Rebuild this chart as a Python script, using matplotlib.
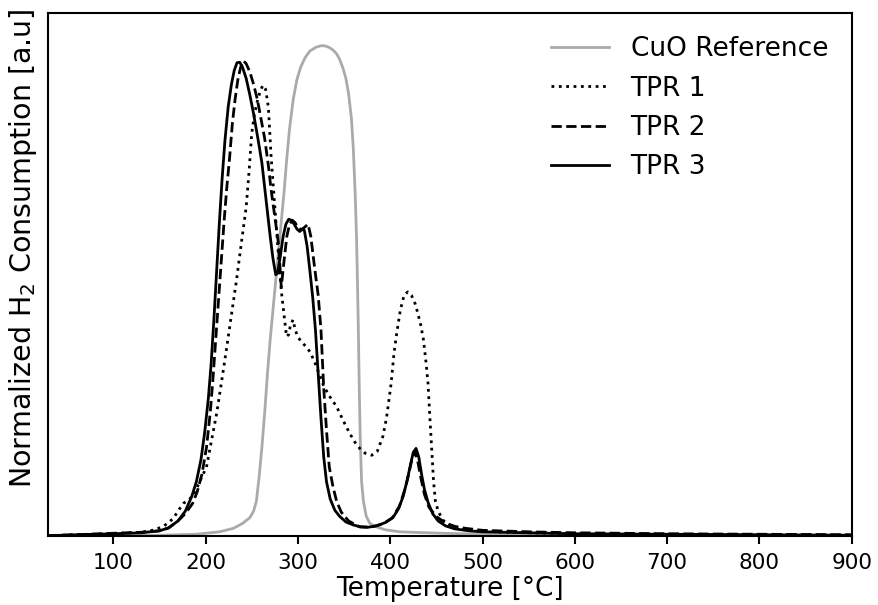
import matplotlib
matplotlib.use('Agg')
import matplotlib.pyplot as plt

# Temperature [°C] and normalized H2 consumption
cuo_t = [29, 100, 150, 190, 215, 230, 240, 248, 252, 255, 258, 261, 264, 267, 270,
         273, 276, 279, 282, 285, 288, 291, 295, 299, 303, 308, 313, 320, 326, 330,
         334, 338, 342, 345, 349, 352, 355, 358, 360, 362, 363.5, 364.5, 365.5,
         366.5, 367.5, 369, 371, 374, 378, 385, 395, 410, 457, 500, 600, 700, 800, 900]
cuo_y = [0.0, 0.0, 0.001, 0.003, 0.008, 0.015, 0.025, 0.037, 0.05, 0.07, 0.12, 0.18, 0.25, 0.33, 0.40,
         0.46, 0.52, 0.58, 0.64, 0.70, 0.77, 0.83, 0.89, 0.93, 0.955, 0.975, 0.988, 0.996, 0.999, 0.998,
         0.995, 0.99, 0.982, 0.972, 0.952, 0.932, 0.9, 0.85, 0.79, 0.70, 0.61, 0.52, 0.42,
         0.30, 0.2, 0.11, 0.07, 0.04, 0.025, 0.018, 0.012, 0.008, 0.005, 0.003, 0.002, 0.001, 0.001, 0.0]

tpr1_t = [29, 60, 100, 130, 145, 155, 165, 170, 176, 183, 190, 196, 201, 206, 212, 217, 223,
          228, 233.5, 239, 244, 247, 250, 253, 256, 259, 262, 265, 268, 271, 275, 279, 282,
          285, 287.7, 290, 292, 294.8, 297, 300, 304, 309, 313, 318, 323, 328, 334, 342, 349,
          356, 362, 367, 373, 380, 386, 392, 396, 401, 404, 407, 411, 415, 419, 423, 427,
          430, 433, 436, 439, 441, 443, 445, 447, 449, 452, 457, 465, 475, 485, 500, 550,
          600, 700, 800, 900]
tpr1_y = [0.0, 0.002, 0.004, 0.007, 0.012, 0.02, 0.035, 0.05, 0.066, 0.075, 0.095, 0.12, 0.14, 0.19, 0.249, 0.31, 0.385,
          0.45, 0.521, 0.6, 0.67, 0.74, 0.82, 0.86, 0.885, 0.905, 0.918, 0.91, 0.874, 0.772, 0.67, 0.569, 0.5,
          0.45, 0.406, 0.41, 0.43, 0.44, 0.42, 0.405, 0.395, 0.385, 0.375, 0.355, 0.33, 0.305, 0.285, 0.263, 0.235,
          0.209, 0.19, 0.178, 0.168, 0.164, 0.172, 0.202, 0.24, 0.31, 0.37, 0.412, 0.46, 0.49, 0.497, 0.49, 0.473,
          0.453, 0.43, 0.4, 0.35, 0.31, 0.24, 0.175, 0.11, 0.07, 0.05, 0.032, 0.02, 0.014, 0.012, 0.009, 0.006,
          0.004, 0.003, 0.002, 0.001]

tpr2_t = [29, 60, 100, 130, 150, 160, 170, 178, 186, 191, 196, 201, 205, 208, 211, 214, 217,
          220, 223, 226, 229, 232, 235, 238, 241, 244, 248, 252, 256, 260, 264, 268, 271,
          275, 279, 282, 285, 288, 291, 294, 297, 300, 304, 308, 311, 314, 318, 322, 325,
          328, 331, 334, 338, 342, 347, 355, 367, 380, 392, 402, 410, 416, 420, 424, 427,
          430, 433, 437, 442, 450, 460, 470, 482, 500, 550, 600, 700, 800, 900]
tpr2_y = [0.0, 0.002, 0.005, 0.007, 0.01, 0.016, 0.03, 0.045, 0.066, 0.09, 0.125, 0.18, 0.25, 0.32, 0.4, 0.48, 0.56,
          0.64, 0.71, 0.77, 0.84, 0.89, 0.93, 0.955, 0.968, 0.962, 0.945, 0.92, 0.89, 0.85, 0.81, 0.755, 0.705,
          0.65, 0.595, 0.507, 0.56, 0.61, 0.635, 0.643, 0.638, 0.628, 0.623, 0.63, 0.635, 0.61, 0.548, 0.49, 0.42,
          0.3, 0.215, 0.14, 0.1, 0.07, 0.048, 0.03, 0.018, 0.018, 0.024, 0.036, 0.06, 0.095, 0.125, 0.16, 0.171,
          0.15, 0.12, 0.085, 0.058, 0.039, 0.026, 0.019, 0.015, 0.011, 0.008, 0.006, 0.004, 0.003, 0.002]

tpr3_t = [29, 60, 100, 130, 150, 160, 170, 178, 185, 190, 195, 199, 203, 206, 209, 212, 215,
          218, 221, 224.5, 228, 231, 234, 237, 240, 244, 248, 252, 257, 261, 264, 267, 270,
          273, 276, 278, 281, 284, 287, 290, 293, 296, 299, 302, 305, 307, 310, 313, 316,
          319, 322, 325, 328, 331, 335, 340, 345, 352, 360, 368, 375, 385, 395, 403, 409,
          414, 418, 422, 425, 428, 431, 434, 437, 441, 446, 452, 460, 470, 485, 500, 550,
          600, 700, 800, 900]
tpr3_y = [0.0, 0.002, 0.004, 0.006, 0.01, 0.016, 0.03, 0.05, 0.08, 0.11, 0.155, 0.21, 0.28, 0.35, 0.44, 0.54, 0.64,
          0.73, 0.806, 0.874, 0.92, 0.948, 0.964, 0.965, 0.955, 0.932, 0.898, 0.86, 0.806, 0.76, 0.71, 0.66, 0.61,
          0.565, 0.532, 0.535, 0.57, 0.61, 0.635, 0.645, 0.643, 0.635, 0.625, 0.62, 0.626, 0.622, 0.59, 0.54, 0.487,
          0.42, 0.33, 0.24, 0.16, 0.11, 0.075, 0.052, 0.04, 0.028, 0.022, 0.018, 0.017, 0.02, 0.027, 0.037, 0.055,
          0.08, 0.11, 0.145, 0.17, 0.178, 0.16, 0.125, 0.095, 0.068, 0.045, 0.03, 0.02, 0.014, 0.01, 0.008, 0.006,
          0.004, 0.003, 0.002, 0.001]

fig = plt.figure(figsize=(8.79, 6.05), dpi=100)
ax = fig.add_axes([0.0543, 0.1145, 0.9147, 0.8645])

ax.plot(cuo_t, cuo_y, color='#aaaaaa', lw=2, label='CuO Reference')
ax.plot(tpr1_t, tpr1_y, color='black', lw=2, ls=':', label='TPR 1')
ax.plot(tpr2_t, tpr2_y, color='black', lw=2, ls='--', label='TPR 2')
ax.plot(tpr3_t, tpr3_y, color='black', lw=2, ls='-', label='TPR 3')

ax.set_xlim(29, 900)
ax.set_ylim(0, 1.066)
ax.set_xticks([100, 200, 300, 400, 500, 600, 700, 800, 900])
ax.set_yticks([])
ax.tick_params(axis='x', labelsize=15.5, width=1.5, length=6, pad=6.5, direction='out')
for sp in ax.spines.values():
    sp.set_linewidth(1.5)

ax.set_xlabel('Temperature [°C]', fontsize=19, labelpad=2)
ax.set_ylabel('Normalized H$_2$ Consumption [a.u]', fontsize=20.5, labelpad=6, y=0.55)
ax.legend(loc='upper right', frameon=False, fontsize=19, handlelength=2.2)

fig.savefig('out.png', dpi=100)
